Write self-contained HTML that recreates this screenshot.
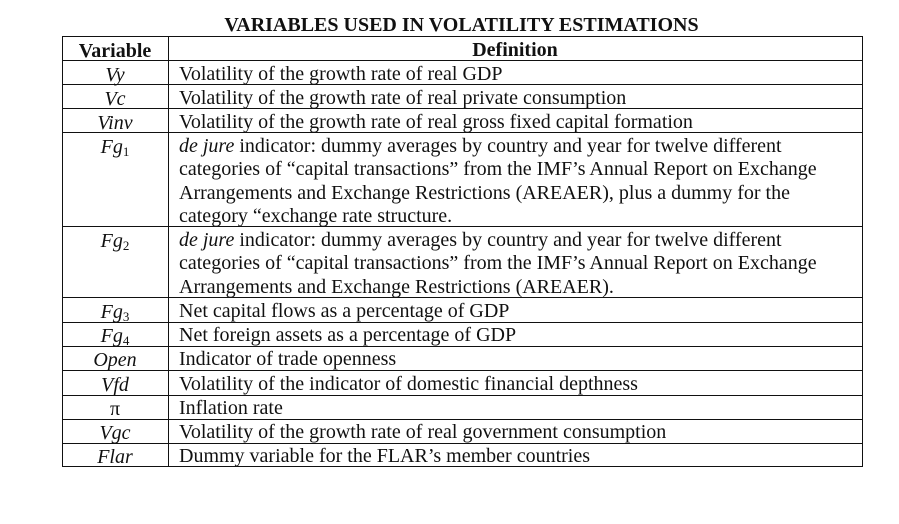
<!DOCTYPE html>
<html><head><meta charset="utf-8"><style>
body{margin:0;width:899px;height:524px;background:#fff;position:relative;overflow:hidden;font-family:"Liberation Serif",serif;color:#111}
.h{position:absolute;background:#111;height:1px;left:62px;width:801px}
.v{position:absolute;background:#111;width:1px;top:36px;height:430px}
.t{position:absolute;font-size:20px;line-height:23.4px;white-space:nowrap;margin-top:2px}
.c{position:absolute;left:62px;width:106px;text-align:center;font-size:20px;font-style:italic;line-height:24px;margin-top:2px}
.d{left:179px}
sub{font-size:13px;vertical-align:-3px;font-style:normal;line-height:0}
</style></head><body>
<div class="t" style="left:0;width:923px;text-align:center;top:12px;font-weight:bold;font-size:20px">VARIABLES USED IN VOLATILITY ESTIMATIONS</div>
<div class="h" style="top:36px"></div><div class="h" style="top:60px"></div><div class="h" style="top:84px"></div><div class="h" style="top:108px"></div><div class="h" style="top:132px"></div><div class="h" style="top:226px"></div><div class="h" style="top:297px"></div><div class="h" style="top:322px"></div><div class="h" style="top:346px"></div><div class="h" style="top:370px"></div><div class="h" style="top:395px"></div><div class="h" style="top:419px"></div><div class="h" style="top:443px"></div><div class="h" style="top:466px"></div>
<div class="v" style="left:62px"></div><div class="v" style="left:168px"></div><div class="v" style="left:862px"></div>
<div class="c" style="top:37px;font-style:normal;font-weight:bold">Variable</div>
<div class="t" style="left:168px;width:694px;text-align:center;top:37px;font-weight:bold">Definition</div>
<div class="c" style="top:61px">Vy</div><div class="t d" style="top:61px">Volatility of the growth rate of real GDP</div>
<div class="c" style="top:85px">Vc</div><div class="t d" style="top:85px">Volatility of the growth rate of real private consumption</div>
<div class="c" style="top:109px">Vinv</div><div class="t d" style="top:109px">Volatility of the growth rate of real gross fixed capital formation</div>
<div class="c" style="top:133px">Fg<sub>1</sub></div><div class="t d" style="top:133px"><i>de jure</i> indicator: dummy averages by country and year for twelve different<br>categories of “capital transactions” from the IMF’s Annual Report on Exchange<br>Arrangements and Exchange Restrictions (AREAER), plus a dummy for the<br>category “exchange rate structure.</div>
<div class="c" style="top:227px">Fg<sub>2</sub></div><div class="t d" style="top:227px"><i>de jure</i> indicator: dummy averages by country and year for twelve different<br>categories of “capital transactions” from the IMF’s Annual Report on Exchange<br>Arrangements and Exchange Restrictions (AREAER).</div>
<div class="c" style="top:298px">Fg<sub>3</sub></div><div class="t d" style="top:298px">Net capital flows as a percentage of GDP</div>
<div class="c" style="top:322px">Fg<sub>4</sub></div><div class="t d" style="top:322px">Net foreign assets as a percentage of GDP</div>
<div class="c" style="top:346px">Open</div><div class="t d" style="top:346px">Indicator of trade openness</div>
<div class="c" style="top:371px">Vfd</div><div class="t d" style="top:371px">Volatility of the indicator of domestic financial depthness</div>
<div class="c" style="top:395px;font-style:normal">π</div><div class="t d" style="top:395px">Inflation rate</div>
<div class="c" style="top:419px">Vgc</div><div class="t d" style="top:419px">Volatility of the growth rate of real government consumption</div>
<div class="c" style="top:443px">Flar</div><div class="t d" style="top:443px">Dummy variable for the FLAR’s member countries</div>
</body></html>
